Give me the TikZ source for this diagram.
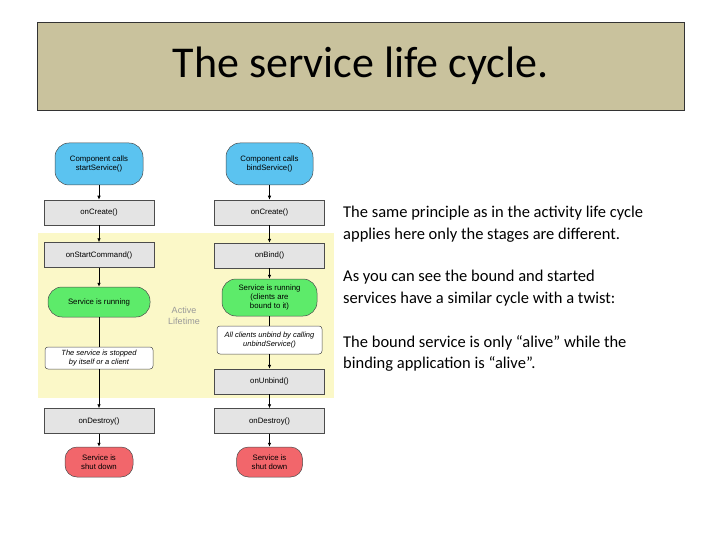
\documentclass[tikz,border=0pt]{standalone}
\usepackage{fontspec}
\setmainfont{Carlito}
\newfontfamily\hv{Liberation Sans}
\usetikzlibrary{arrows.meta}
\definecolor{khaki}{HTML}{C9C29D}
\definecolor{pale}{HTML}{FBF8C8}
\definecolor{bl}{HTML}{5BC3F0}
\definecolor{gr}{HTML}{5DEB6A}
\definecolor{rd}{HTML}{F2666B}
\definecolor{gy}{HTML}{E4E4E4}
\begin{document}
\begin{tikzpicture}[x=1pt,y=-1pt,
 base/.style={draw=black!70,line width=0.5pt,font=\hv\fontsize{7.8}{9}\selectfont,align=center,inner sep=0pt},
 box/.style={base,fill=gy,minimum width=110pt,minimum height=25pt},
 pill/.style={base,rounded corners=11pt},
 note/.style={base,fill=white,rounded corners=3pt,font=\hv\itshape\fontsize{7.5}{9}\selectfont},
 arr/.style={-{Latex[length=4pt,width=3.5pt]},line width=0.7pt},
 body/.style={anchor=north west,align=left,font=\fontsize{16.5}{21.5}\selectfont,inner sep=0pt}]
\useasboundingbox (0,0) rectangle (720,540);
\fill[white] (0,0) rectangle (720,540);
\node[draw=black!80,fill=khaki,minimum width=647pt,minimum height=88pt,font=\fontsize{44}{48}\selectfont] (title) at (360.5,66) {The service life cycle.};
\fill[pale] (38,233) rectangle (334,398);
\node[font=\hv\fontsize{9}{11}\selectfont,text=black!40,align=center] (al) at (184,316) {Active\\Lifetime};
% left
\node[pill,fill=bl,minimum width=88pt,minimum height=42pt,rounded corners=14pt] (l1) at (99,164) {Component calls\\startService()};
\node[box] (l2) at (99,212.5) {onCreate()};
\node[box] (l3) at (99,255) {onStartCommand()};
\node[pill,fill=gr,minimum width=102pt,minimum height=30pt,rounded corners=14pt] (l4) at (99,302) {Service is running};
\node[note,minimum width=108pt,minimum height=22pt] (l5) at (99,358) {The service is stopped\\by itself or a client};
\node[box] (l6) at (99,421) {onDestroy()};
\node[pill,fill=rd,minimum width=68pt,minimum height=30pt,rounded corners=12pt] (l7) at (99,462) {Service is\\shut down};
% right
\node[pill,fill=bl,minimum width=87pt,minimum height=42pt,rounded corners=14pt] (r1) at (269.5,164) {Component calls\\bindService()};
\node[box] (r2) at (269.5,212.5) {onCreate()};
\node[box] (r3) at (269.5,255.5) {onBind()};
\node[pill,fill=gr,minimum width=95pt,minimum height=37pt,rounded corners=14pt] (r4) at (269.5,297.5) {Service is running\\(clients are\\bound to it)};
\node[note,minimum width=105pt,minimum height=28pt] (r5) at (269.5,340) {All clients unbind by calling\\unbindService()};
\node[box] (r6) at (269.5,381.5) {onUnbind()};
\node[box] (r7) at (269.5,421) {onDestroy()};
\node[pill,fill=rd,minimum width=66pt,minimum height=30pt,rounded corners=12pt] (r8) at (269.5,462) {Service is\\shut down};
\foreach \a/\b in {l1/l2,l2/l3,l3/l4,l6/l7,r1/r2,r2/r3,r3/r4,r5/r6,r6/r7,r7/r8}
 \draw[arr] (\a) -- (\b);
\draw[line width=0.7pt] (l4) -- (l5);
\draw[arr] (l5) -- (l6);
\draw[line width=0.7pt] (r4) -- (r5);
% text
\node[body] (t1) at (343,206) {The same principle as in the activity life cycle\\applies here only the stages are different.};
\node[body] (t2) at (343,270) {As you can see the bound and started\\services have a similar cycle with a twist:};
\node[body] (t3) at (343,335) {The bound service is only “alive” while the\\binding application is “alive”.};
\end{tikzpicture}
\end{document}
